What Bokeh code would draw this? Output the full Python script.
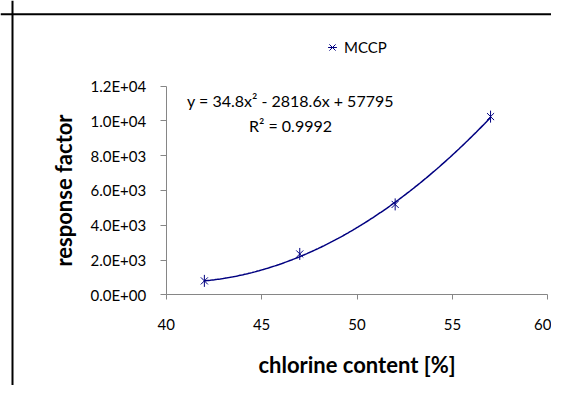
import numpy as np
from bokeh.plotting import figure
from bokeh.models import FixedTicker, Label, Legend, LegendItem, Span
from bokeh.embed import file_html
from bokeh.resources import INLINE

# ---- data ----
CHLORINE = [42, 47, 52, 57]                 # chlorine content [%]
RESPONSE = [800, 2350, 5200, 10250]         # response factor
TREND_COEFFS = [34.8, -2818.6, 57795]       # polynomial trendline (as printed on chart)
SERIES_NAME = "MCCP"
EQ_TEXT = "y = 34.8x\u00b2 - 2818.6x + 57795"
R2_TEXT = "R\u00b2 = 0.9992"
X_TICKS = [40, 45, 50, 55, 60]
Y_TICKS = [0, 2000, 4000, 6000, 8000, 10000, 12000]
Y_TICK_LABELS = ["0.0E+00", "2.0E+03", "4.0E+03", "6.0E+03", "8.0E+03", "1.0E+04", "1.2E+04"]
X_TITLE = "chlorine content [%]"
Y_TITLE = "response factor"

# ---- layout / style ----
NAVY = "#000080"
AXIS_GREY = "#868686"
FONT = "Lato"
W, H = 551, 385
# view window chosen so the plot area (40..60 x 0..12000) sits where the reference has it
X_VIEW = (31.315, 60.194)
Y_VIEW = (-5218, 16930)
BORDER_X = 31.944      # chart-area border (left)
BORDER_Y = 16140       # chart-area border (top)

p = figure(width=W, height=H, x_range=X_VIEW, y_range=Y_VIEW,
           output_backend="svg", toolbar_location=None,
           min_border_left=0, min_border_right=0,
           min_border_top=0, min_border_bottom=0)
p.background_fill_color = "white"
p.border_fill_color = "white"
p.outline_line_color = None
p.xgrid.visible = False
p.ygrid.visible = False

# outer chart border
p.add_layout(Span(location=BORDER_X, dimension="height", line_color="black", line_width=2))
p.add_layout(Span(location=BORDER_Y, dimension="width", line_color="black", line_width=2))

# trendline
xs = np.linspace(CHLORINE[0], CHLORINE[-1], 200)
ys = np.polyval(TREND_COEFFS, xs)
p.line(xs, ys, line_color=NAVY, line_width=1.5)

# star markers (x + vertical bar)
r1 = p.scatter(CHLORINE, RESPONSE, marker="x", size=10, line_color=NAVY, line_width=1)
r2 = p.scatter(CHLORINE, RESPONSE, marker="dash", angle=np.pi / 2, size=12,
               line_color=NAVY, line_width=1)

legend = Legend(items=[LegendItem(label=SERIES_NAME, renderers=[r1, r2])],
                location=(321, 327), padding=0, margin=0, spacing=0,
                border_line_color=None, background_fill_alpha=0,
                glyph_width=22, glyph_height=22, label_standoff=1,
                label_text_font=FONT, label_text_font_size="15px",
                label_text_color="black")
p.add_layout(legend)

# equation labels
p.add_layout(Label(x=46.515, y=11150, text=EQ_TEXT, text_align="center",
                   text_baseline="middle", text_font=FONT, text_font_size="16px",
                   text_color="black"))
p.add_layout(Label(x=46.515, y=9740, text=R2_TEXT, text_align="center",
                   text_baseline="middle", text_font=FONT, text_font_size="16px",
                   text_color="black"))

# axes (fixed inside the view, bounded to the plot area)
for ax in (p.xaxis[0], p.yaxis[0]):
    ax.axis_line_color = AXIS_GREY
    ax.major_tick_line_color = AXIS_GREY
    ax.minor_tick_line_color = None
    ax.major_tick_in = 0
    ax.major_label_text_font = FONT
    ax.major_label_text_font_size = "15px"
    ax.major_label_text_color = "black"
    ax.axis_label_text_font = FONT
    ax.axis_label_text_font_style = "bold"
    ax.axis_label_text_font_size = "22px"
    ax.axis_label_text_color = "black"

p.xaxis.fixed_location = Y_TICKS[0]
p.yaxis.fixed_location = X_TICKS[0]
p.xaxis.bounds = (X_TICKS[0], X_TICKS[-1])
p.yaxis.bounds = (Y_TICKS[0], Y_TICKS[-1])
p.xaxis.ticker = FixedTicker(ticks=X_TICKS, minor_ticks=[])
p.yaxis.ticker = FixedTicker(ticks=Y_TICKS, minor_ticks=[])
p.yaxis.major_label_overrides = {t: s for t, s in zip(Y_TICKS, Y_TICK_LABELS)}
p.xaxis.major_tick_out = 5
p.yaxis.major_tick_out = 6
p.xaxis.major_label_standoff = 19
p.yaxis.major_label_standoff = 14
p.xaxis.axis_label = X_TITLE
p.yaxis.axis_label = Y_TITLE
p.xaxis.axis_label_standoff = 18
p.yaxis.axis_label_standoff = 11

open("out.html", "w").write(file_html(p, INLINE))
